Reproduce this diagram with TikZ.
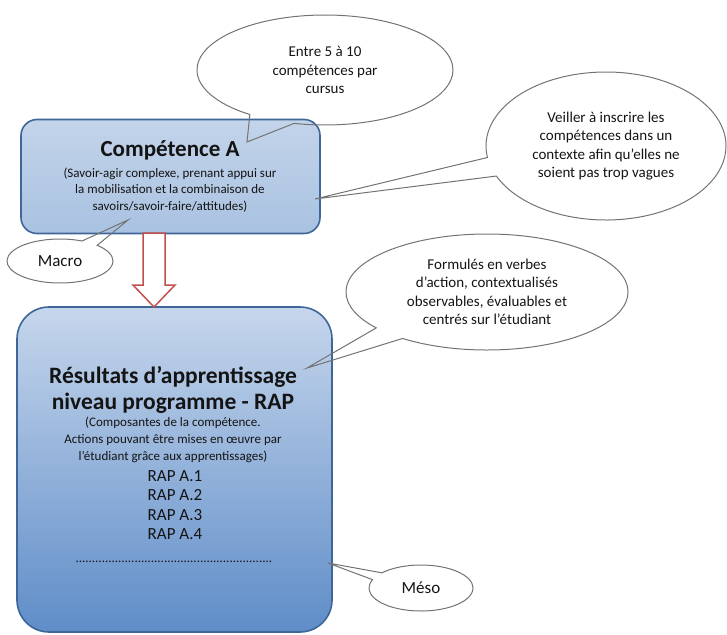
\documentclass[tikz,border=0pt]{standalone}
\usepackage{fontspec}
\setmainfont{Carlito}
\usepackage{tikz}
\usetikzlibrary{shapes, shapes.callouts, positioning}

\definecolor{cadre}{HTML}{3F6699}
\definecolor{fondA}{HTML}{C3D4EA}
\definecolor{fondAbas}{HTML}{A9C2E1}
\definecolor{fondBhaut}{HTML}{C6D6EC}
\definecolor{fondBmilieu}{HTML}{E4EAF4}
\definecolor{fondBbas}{HTML}{5F8DC8}
\definecolor{bulletrait}{HTML}{737373}
\definecolor{rouge}{HTML}{C0504D}
\definecolor{texte}{HTML}{141414}

\begin{document}
\begin{tikzpicture}[x=1pt, y=-1pt,
        boite/.style={rectangle, draw=cadre, line width=1.6pt},
        titre/.style={align=center, text=texte, inner sep=0pt, font=\fontsize{23}{26}\selectfont\bfseries},
        petit/.style={align=center, text=texte, inner sep=0pt, font=\fontsize{13}{16.8}\selectfont},
        liste/.style={align=center, text=texte, inner sep=0pt, font=\fontsize{17}{19.2}\selectfont},
        bulle/.style={ellipse callout, draw=bulletrait, line width=1pt, align=center, text=texte, inner sep=0pt, font=\fontsize{15}{18.5}\selectfont, callout pointer arc=15},
        fleche/.style={draw=rouge, line width=1.5pt, fill=white, line join=miter}
    ]
        \useasboundingbox (0,0) rectangle (727,634);

        \node[boite, rounded corners=16pt, top color=fondA, bottom color=fondAbas, minimum width=299pt, minimum height=114pt] (compA) at (170.5,176.5) {};
        \node[titre] (titreA) at (170,150) {Compétence A};
        \node[petit] (descA) at (170,190) {(Savoir-agir complexe, prenant appui sur\\ la mobilisation et la combinaison de\\ savoirs/savoir-faire/attitudes)};

        \node[boite, rounded corners=32pt, top color=fondBhaut, middle color=fondBmilieu, bottom color=fondBbas, minimum width=315pt, minimum height=325pt] (rap) at (174.5,469.5) {};
        \node[titre, font=\fontsize{23.5}{26.5}\selectfont\bfseries] (titreB) at (173,390) {Résultats d’apprentissage\\ niveau programme - RAP};
        \node[petit] (descB) at (173,440) {(Composantes de la compétence.\\ Actions pouvant être mises en œuvre par\\ l’étudiant grâce aux apprentissages)};
        \node[liste] (listeB) at (175,505) {RAP A.1\\ RAP A.2\\ RAP A.3\\ RAP A.4};
        \node[petit] (suite) at (174,562) {............................................................};

        \draw[fleche] (143,233) -- (143,285) -- (133,285) -- (154,307) -- (175,285) -- (165,285) -- (165,233) -- cycle;

        \coordinate (ptcursus) at (247,142);
        \coordinate (ptcontexte) at (315,199);
        \coordinate (ptmacro) at (128,220);
        \coordinate (ptverbes) at (307,368);
        \coordinate (ptmeso) at (328,563);

        \node[bulle, minimum width=256pt, minimum height=110pt, callout absolute pointer=(ptcursus), callout pointer arc=22] (cursus) at (325,70)
            {Entre 5 à 10\\ compétences par\\ cursus};
        \node[bulle, minimum width=240pt, minimum height=148pt, callout absolute pointer=(ptcontexte)] (contexte) at (606,146)
            {Veiller à inscrire les\\ compétences dans un\\ contexte afin qu’elles ne\\ soient pas trop vagues};
        \node[bulle, minimum width=106pt, minimum height=44pt, callout absolute pointer=(ptmacro), callout pointer arc=20, font=\fontsize{17}{20}\selectfont] (macro) at (60,261)
            {Macro};
        \node[bulle, minimum width=282pt, minimum height=116pt, callout absolute pointer=(ptverbes)] (verbes) at (487,292)
            {Formulés en verbes\\ d’action, contextualisés\\ observables, évaluables et\\ centrés sur l’étudiant};
        \node[bulle, minimum width=104pt, minimum height=46pt, callout absolute pointer=(ptmeso), callout pointer arc=20, font=\fontsize{17}{20}\selectfont] (meso) at (421,588)
            {Méso};
    \end{tikzpicture}
\end{document}
